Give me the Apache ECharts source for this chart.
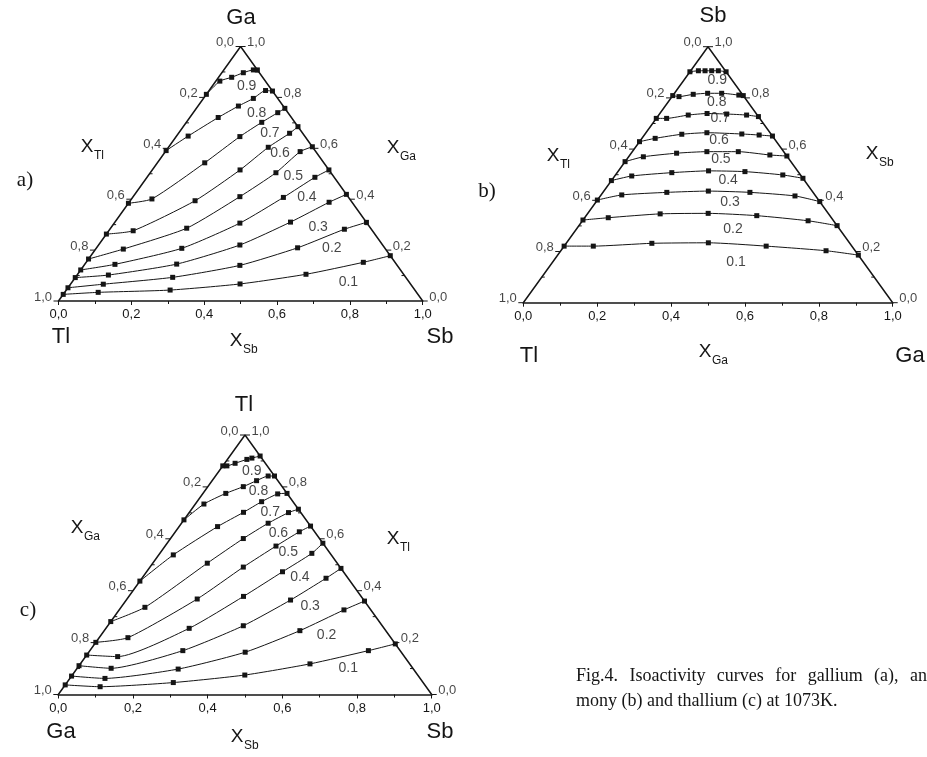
<!DOCTYPE html>
<html>
<head>
<meta charset="utf-8">
<script src="https://cdn.jsdelivr.net/npm/echarts@6.0.0/dist/echarts.min.js"></script>
<style>
  html, body { margin: 0; padding: 0; background: #ffffff; }
  #chart { width: 927px; height: 757px; }
</style>
</head>
<body>
<div id="chart"></div>
<script>
// Isoactivity levels drawn in every diagram
const levels = [0.1, 0.2, 0.3, 0.4, 0.5, 0.6, 0.7, 0.8, 0.9];

// Tick values along the triangle edges
const edgeTicks = [0.0, 0.2, 0.4, 0.6, 0.8, 1.0];
const edgeMinorTicks = [0.1, 0.3, 0.5, 0.7, 0.9];

// Compositions are [bottom-axis mole fraction, apex mole fraction].
// (a) gallium activity, points as [x_Sb, x_Ga]
const gaIsoactivity = [
  [[0, 0.026], [0.092, 0.034], [0.285, 0.043], [0.465, 0.067], [0.627, 0.105], [0.761, 0.152], [0.822, 0.178]],
  [[0, 0.052], [0.090, 0.066], [0.267, 0.093], [0.428, 0.140], [0.552, 0.209], [0.644, 0.282], [0.691, 0.309]],
  [[0, 0.092], [0.086, 0.102], [0.252, 0.145], [0.388, 0.220], [0.482, 0.310], [0.549, 0.388], [0.581, 0.419]],
  [[0, 0.122], [0.083, 0.144], [0.235, 0.207], [0.345, 0.306], [0.414, 0.407], [0.461, 0.486], [0.485, 0.515]],
  [[0, 0.165], [0.076, 0.204], [0.209, 0.286], [0.293, 0.410], [0.345, 0.504], [0.370, 0.587], [0.394, 0.606]],
  [[0, 0.263], [0.067, 0.276], [0.178, 0.394], [0.241, 0.515], [0.274, 0.604], [0.305, 0.659], [0.315, 0.685]],
  [[0, 0.384], [0.056, 0.401], [0.130, 0.543], [0.175, 0.646], [0.207, 0.702], [0.232, 0.740], [0.243, 0.757]],
  [[0, 0.591], [0.032, 0.648], [0.078, 0.721], [0.111, 0.766], [0.137, 0.796], [0.155, 0.827], [0.175, 0.825]],
  [[0, 0.812], [0.011, 0.864], [0.036, 0.879], [0.059, 0.897], [0.081, 0.908], [0.092, 0.908]]
];

// (b) antimony activity, points as [x_Ga, x_Sb]
const sbIsoactivity = [
  [[0, 0.221], [0.079, 0.221], [0.232, 0.232], [0.384, 0.234], [0.547, 0.221], [0.718, 0.203], [0.814, 0.186]],
  [[0, 0.323], [0.064, 0.332], [0.197, 0.347], [0.326, 0.349], [0.462, 0.340], [0.611, 0.320], [0.699, 0.301]],
  [[0, 0.401], [0.056, 0.421], [0.173, 0.431], [0.283, 0.436], [0.398, 0.431], [0.527, 0.417], [0.605, 0.395]],
  [[0, 0.477], [0.046, 0.495], [0.148, 0.508], [0.244, 0.515], [0.344, 0.512], [0.453, 0.499], [0.514, 0.486]],
  [[0, 0.551], [0.040, 0.570], [0.123, 0.584], [0.202, 0.590], [0.287, 0.590], [0.379, 0.577], [0.427, 0.573]],
  [[0, 0.629], [0.036, 0.642], [0.100, 0.658], [0.165, 0.664], [0.262, 0.659], [0.311, 0.655], [0.349, 0.651]],
  [[0, 0.720], [0.028, 0.720], [0.080, 0.733], [0.128, 0.739], [0.182, 0.737], [0.238, 0.733], [0.273, 0.727]],
  [[0, 0.809], [0.019, 0.805], [0.053, 0.814], [0.090, 0.818], [0.128, 0.818], [0.178, 0.811], [0.191, 0.809]],
  [[0, 0.902], [0.021, 0.906], [0.039, 0.906], [0.057, 0.906], [0.075, 0.906], [0.098, 0.902]]
];

// (c) thallium activity, points as [x_Sb, x_Tl]
const tlIsoactivity = [
  [[0, 0.037], [0.097, 0.030], [0.285, 0.046], [0.462, 0.075], [0.615, 0.118], [0.746, 0.169], [0.805, 0.195]],
  [[0, 0.071], [0.094, 0.062], [0.272, 0.098], [0.419, 0.163], [0.524, 0.246], [0.602, 0.326], [0.640, 0.360]],
  [[0, 0.111], [0.091, 0.101], [0.249, 0.169], [0.363, 0.265], [0.440, 0.364], [0.493, 0.448], [0.514, 0.486]],
  [[0, 0.152], [0.086, 0.146], [0.223, 0.255], [0.307, 0.378], [0.364, 0.473], [0.407, 0.544], [0.417, 0.583]],
  [[0, 0.201], [0.077, 0.219], [0.188, 0.368], [0.250, 0.491], [0.297, 0.572], [0.332, 0.627], [0.351, 0.649]],
  [[0, 0.281], [0.064, 0.336], [0.146, 0.506], [0.195, 0.601], [0.232, 0.660], [0.266, 0.701], [0.286, 0.714]],
  [[0, 0.437], [0.039, 0.538], [0.103, 0.647], [0.145, 0.702], [0.173, 0.743], [0.201, 0.773], [0.225, 0.775]],
  [[0, 0.673], [0.023, 0.734], [0.061, 0.775], [0.095, 0.801], [0.119, 0.824], [0.141, 0.842], [0.158, 0.842]],
  [[0, 0.881], [0.011, 0.881], [0.028, 0.891], [0.052, 0.906], [0.063, 0.911], [0.081, 0.919]]
];

// Where each level's caption sits inside its diagram, same composition frame
const gaTagSpots = [[0.758, 0.076], [0.647, 0.207], [0.567, 0.292], [0.478, 0.408], [0.399, 0.491],
                    [0.318, 0.580], [0.250, 0.661], [0.175, 0.738], [0.094, 0.845]];
const sbTagSpots = [[0.496, 0.160], [0.424, 0.287], [0.364, 0.391], [0.316, 0.477], [0.255, 0.560],
                    [0.212, 0.636], [0.173, 0.720], [0.131, 0.785], [0.090, 0.870]];
const tlTagSpots = [[0.726, 0.101], [0.604, 0.229], [0.504, 0.341], [0.420, 0.454], [0.341, 0.550],
                    [0.279, 0.621], [0.217, 0.701], [0.145, 0.782], [0.087, 0.862]];

const ink = '#151515';
const sans = '"Liberation Sans", Arial, Helvetica, sans-serif';
const serif = '"Liberation Serif", "Times New Roman", serif';

// ternary composition -> cartesian frame of a panel (base 0..1, height 0..1)
const toXY = ([b, t]) => [b + t / 2, t];
const comma = v => v.toFixed(1).replace('.', ',');

const panels = [
  { box: { left: 58.5, top: 46.5, width: 364.2, height: 254.5 }, curves: gaIsoactivity, tags: gaTagSpots },
  { box: { left: 523.3, top: 46.7, width: 369.4, height: 256 }, curves: sbIsoactivity, tags: sbTagSpots },
  { box: { left: 58.3, top: 435, width: 373.4, height: 259.5 }, curves: tlIsoactivity, tags: tlTagSpots }
];

const grid = [], xAxis = [], yAxis = [], series = [];

panels.forEach((p, i) => {
  grid.push(p.box);
  xAxis.push({
    gridIndex: i, type: 'value', min: 0, max: 1, interval: 0.2,
    axisLine: { lineStyle: { color: ink, width: 1.7 } },
    axisTick: { length: 4, lineStyle: { color: ink, width: 1 } },
    minorTick: { show: true, splitNumber: 2, length: 3, lineStyle: { color: ink, width: 1 } },
    splitLine: { show: false }, minorSplitLine: { show: false },
    axisLabel: { formatter: comma, color: ink, fontSize: 13, fontFamily: sans, margin: 7 }
  });
  yAxis.push({ gridIndex: i, type: 'value', min: 0, max: 1, show: false });

  // the two slanted sides of the triangle
  series.push({
    type: 'line', xAxisIndex: i, yAxisIndex: i, silent: true, z: 3,
    data: [[0, 0], [0.5, 1], [1, 0]], symbol: 'none',
    lineStyle: { color: ink, width: 1.5 }
  });

  // ticks on the slanted sides: major ones point outwards, minor ones inwards
  const tickData = [];
  edgeTicks.forEach(v => {
    tickData.push([...toXY([0, 1 - v]), -1, 5]);
    tickData.push([...toXY([1 - v, v]), 1, 5]);
  });
  edgeMinorTicks.forEach(v => {
    tickData.push([...toXY([0, 1 - v]), -1, -3]);
    tickData.push([...toXY([1 - v, v]), 1, -3]);
  });
  series.push({
    type: 'custom', xAxisIndex: i, yAxisIndex: i, silent: true, z: 4,
    data: tickData,
    renderItem: (params, api) => {
      const pt = api.coord([api.value(0), api.value(1)]);
      const d = api.value(2) * api.value(3);
      return {
        type: 'line',
        shape: { x1: pt[0], y1: pt[1], x2: pt[0] + d, y2: pt[1] },
        style: { stroke: ink, lineWidth: 1 }
      };
    }
  });

  // tick labels on the left side (apex reads 0,0) and right side (apex reads 1,0)
  const sideLabel = (pos) => ({
    show: true, position: pos, distance: 6, offset: [0, -4], formatter: '{b}',
    color: ink, fontSize: 13, fontFamily: sans
  });
  series.push({
    type: 'scatter', xAxisIndex: i, yAxisIndex: i, silent: true, symbolSize: 1,
    itemStyle: { color: 'rgba(0,0,0,0)' },
    data: edgeTicks.map(v => ({ value: toXY([0, 1 - v]), name: comma(v) })),
    label: sideLabel('left')
  });
  series.push({
    type: 'scatter', xAxisIndex: i, yAxisIndex: i, silent: true, symbolSize: 1,
    itemStyle: { color: 'rgba(0,0,0,0)' },
    data: edgeTicks.map(v => ({ value: toXY([1 - v, v]), name: comma(v) })),
    label: sideLabel('right')
  });

  // isoactivity curves with their measured points
  p.curves.forEach((curve, k) => {
    series.push({
      type: 'line', name: levels[k].toFixed(1), xAxisIndex: i, yAxisIndex: i, z: 5,
      data: curve.map(toXY), smooth: 0.2,
      symbol: 'rect', symbolSize: 5, showAllSymbol: true,
      itemStyle: { color: ink }, lineStyle: { color: ink, width: 1 }
    });
  });

  // level captions
  series.push({
    type: 'scatter', xAxisIndex: i, yAxisIndex: i, silent: true, symbolSize: 1,
    itemStyle: { color: 'rgba(0,0,0,0)' },
    data: p.tags.map((s, k) => ({ value: toXY(s), name: levels[k].toFixed(1) })),
    label: { show: true, position: 'inside', formatter: '{b}', color: ink, fontSize: 14, fontFamily: sans }
  });
});

// free text: component names, axis names, panel letters, caption
const txt = (x, y, text, size, family, align) => ({
  type: 'text', x, y, silent: true,
  style: { text, fontSize: size, fontFamily: family || sans, fill: ink,
           align: align || 'center', verticalAlign: 'middle' }
});
const axisName = (x, y, sub) => [txt(x, y, 'X', 19), txt(x + 7, y + 9, sub, 12, sans, 'left')];

// The caption's first line is justified: words are spread so that "an"
// of the hyphenated last word ends at the right border of the page.
const captionWords = ['Fig.4.', 'Isoactivity', 'curves', 'for', 'gallium', '(a),', 'anti-'];
const measure = (() => {
  const ctx = document.createElement('canvas').getContext('2d');
  ctx.font = '18px ' + serif;
  return s => ctx.measureText(s).width;
})();
const captionLeft = 576, justifyTo = 927;
const wordWidths = captionWords.map(measure);
const fixedWidth = wordWidths.slice(0, -1).reduce((a, b) => a + b, 0) + measure('an');
const wordGap = (justifyTo - captionLeft - fixedWidth) / (captionWords.length - 1);
const captionTop = [];
let cx = captionLeft;
captionWords.forEach((w, k) => {
  captionTop.push(txt(cx, 676, w, 18, serif, 'left'));
  cx += wordWidths[k] + wordGap;
});

const graphic = [
  // (a)
  txt(241, 18, 'Ga', 22), txt(61, 337, 'Tl', 22), txt(440, 337, 'Sb', 22),
  ...axisName(87, 147, 'Tl'), ...axisName(393, 148, 'Ga'), ...axisName(236, 341, 'Sb'),
  txt(25, 180, 'a)', 21, serif),
  // (b)
  txt(713, 16, 'Sb', 22), txt(529, 356, 'Tl', 22), txt(910, 356, 'Ga', 22),
  ...axisName(553, 156, 'Tl'), ...axisName(872, 154, 'Sb'), ...axisName(705, 352, 'Ga'),
  txt(487, 191, 'b)', 21, serif),
  // (c)
  txt(244, 405, 'Tl', 22), txt(61, 732, 'Ga', 22), txt(440, 732, 'Sb', 22),
  ...axisName(77, 528, 'Ga'), ...axisName(393, 539, 'Tl'), ...axisName(237, 737, 'Sb'),
  txt(28, 610, 'c)', 21, serif),
  // caption
  ...captionTop,
  txt(576, 701, 'mony (b) and thallium (c) at 1073K.', 18, serif, 'left')
];

const chart = echarts.init(document.getElementById('chart'));
chart.setOption({
  animation: false,
  backgroundColor: '#ffffff',
  grid, xAxis, yAxis, series, graphic
});
</script>
</body>
</html>
